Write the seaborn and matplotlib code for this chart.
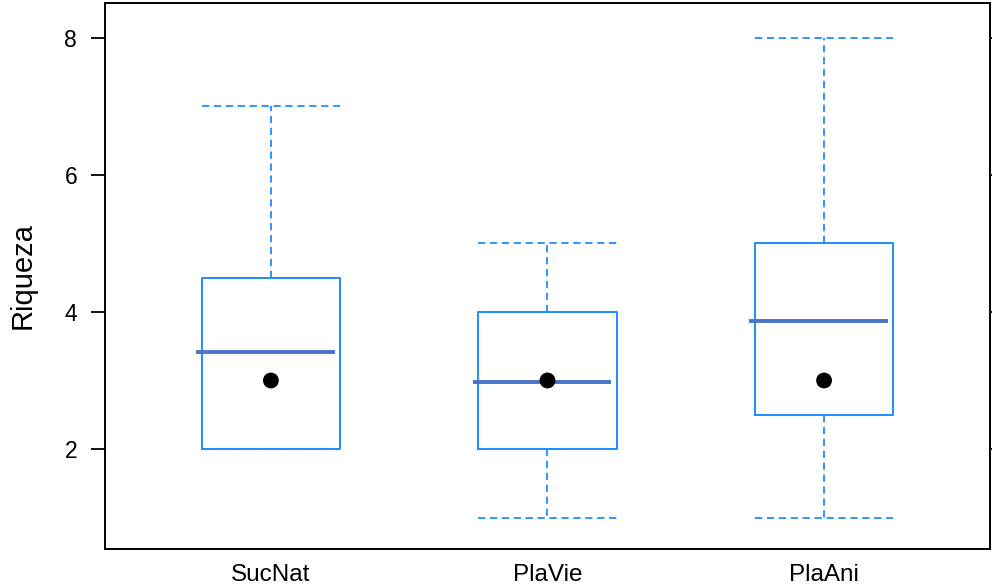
import matplotlib
matplotlib.use("Agg")
import matplotlib.pyplot as plt
import seaborn as sns
import pandas as pd

categories = ["SucNat", "PlaVie", "PlaAni"]
whisker_low = [2, 1, 1]
q1 = [2, 2, 2.5]
medians = [3, 3, 3]
q3 = [4.5, 4, 5]
whisker_high = [7, 5, 8]
means = [3.42, 2.98, 3.87]
yticks = [2, 4, 6, 8]

sns.set_style("ticks")
plt.rcParams["font.family"] = ["Liberation Sans", "DejaVu Sans"]
plt.rcParams.update({"text.color": "black", "axes.labelcolor": "black",
                     "xtick.color": "black", "ytick.color": "black"})

fig = plt.figure(figsize=(9.92, 5.88), dpi=100)
ax = fig.add_axes([0.1058, 0.0663, 0.8922, 0.9286])

blue = "#1E8CFF"
stats = []
for i, c in enumerate(categories):
    stats.append(dict(label=c, whislo=whisker_low[i], q1=q1[i], med=medians[i],
                      q3=q3[i], whishi=whisker_high[i], fliers=[]))

positions = list(range(len(categories)))
ax.bxp(stats, positions=positions, widths=0.5, showfliers=False,
       patch_artist=False,
       boxprops=dict(color=blue, linewidth=1.4),
       whiskerprops=dict(color=blue, linewidth=1.3, linestyle=(0, (4, 2.6))),
       capprops=dict(color=blue, linewidth=1.3, linestyle=(0, (4, 2.6))),
       medianprops=dict(linewidth=0),
       capwidths=0.5)

df = pd.DataFrame({"pos": positions, "median": medians, "cat": categories})
sns.scatterplot(data=df, x="pos", y="median", ax=ax, color="black", s=130,
                edgecolor="none", zorder=5, legend=False)

for i, m in enumerate(means):
    ax.hlines(m, i - 0.27, i + 0.23, color="#4a74c8", linewidth=2.8, zorder=4)

ax.set_xlim(-0.6, 2.6)
ax.set_ylim(0.54, 8.51)
ax.set_xticks(positions)
ax.set_xticklabels(categories)
ax.set_yticks(yticks)
ax.set_yticklabels([str(t) for t in yticks])
ax.tick_params(axis="x", length=0, labelsize=17.5, pad=11)
ax.tick_params(axis="y", length=10, width=1.3, labelsize=16.5, pad=10, right=True,
               direction="out", color="black")
ax.set_xlabel("")
ax.set_ylabel("Riqueza", fontsize=21)
ax.yaxis.set_label_coords(-0.077, 0.5)
for s in ax.spines.values():
    s.set_visible(True)
    s.set_linewidth(1.4)
    s.set_color("black")

fig.savefig("out.png", dpi=100)
